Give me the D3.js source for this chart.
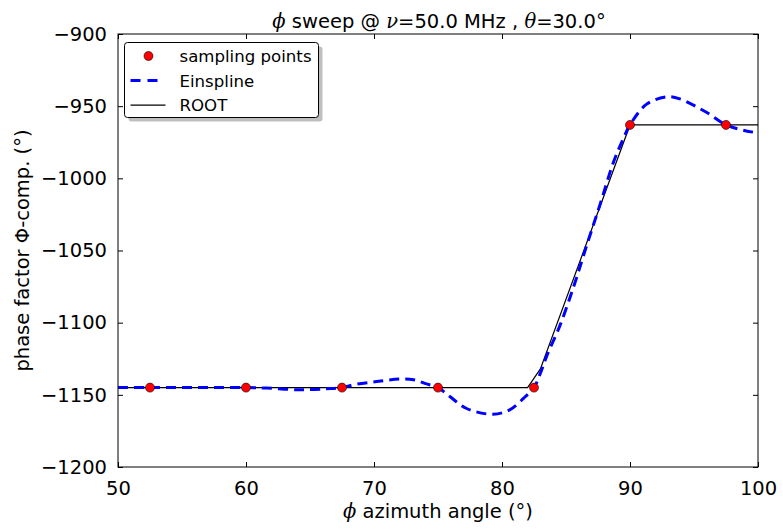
<!DOCTYPE html>
<html lang="en">
<head>
<meta charset="UTF-8">
<title>phi sweep</title>
<script src="https://d3js.org/d3.v7.min.js"></script>
<style>
  body { margin: 0; background: #fff; }
  svg { font-family: "DejaVu Sans", sans-serif; }
</style>
</head>
<body>
<svg id="chart" width="783" height="530"></svg>
<script>
// sampling points
const sampleX = [52.5, 60, 67.5, 75, 82.5, 90, 97.5];
const sampleY = [-1145, -1145, -1145, -1145, -1145, -963, -963];

// Einspline curve
const splineX = [50, 52.5, 55, 57.5, 60, 61.6, 64.2, 66.3, 67.5, 68.4, 70.2, 72.0, 73.1, 74.1, 75, 75.9, 77.2, 79.3, 80.6, 81.7, 82.5, 83.0, 83.5, 84.5, 85.6, 86.6, 87.7, 88.7, 89.5, 90, 91.3, 92.9, 93.9, 96.0, 97.5, 99, 100];
const splineY = [-1145, -1145, -1145, -1145, -1145, -1145.3, -1146.5, -1145.8, -1145, -1143, -1140.8, -1139.1, -1139.5, -1142.4, -1145, -1151, -1159.3, -1163.5, -1160.4, -1152.3, -1145, -1135, -1123, -1102.6, -1075, -1047, -1017, -989, -972, -963, -948.6, -943.5, -945, -954.4, -963, -967, -968.5];

// ROOT linear interpolation
const rootX = [50, 82, 83, 90, 100];
const rootY = [-1145, -1145, -1132, -963, -963];

const xTicks = [50, 60, 70, 80, 90, 100];
const yTicks = [-1200, -1150, -1100, -1050, -1000, -950, -900];

const margin = { left: 118, right: 25, top: 34, bottom: 63 };
const width = 783, height = 530;
const fontSize = 19.5;
const svg = d3.select("#chart");

const x = d3.scaleLinear().domain([50, 100]).range([margin.left, width - margin.right]);
const y = d3.scaleLinear().domain([-1200, -900]).range([height - margin.bottom, margin.top]);

const fmt = d => String(d).replace("-", "\u2212");

// ticks (inward on all sides)
const tickLen = 5;
function drawAxis(axis, transform) {
  const g = svg.append("g").attr("transform", transform).call(axis);
  g.select(".domain").remove();
  g.selectAll(".tick line").attr("stroke", "#000").attr("stroke-width", 1);
  g.selectAll(".tick text").attr("font-size", fontSize).attr("fill", "#000")
    .attr("font-family", "DejaVu Sans, sans-serif");
  return g;
}
drawAxis(d3.axisBottom(x).tickValues(xTicks).tickSizeInner(-tickLen).tickPadding(14).tickFormat(fmt),
  `translate(0,${y(-1200)})`);
drawAxis(d3.axisTop(x).tickValues(xTicks).tickSizeInner(-tickLen).tickFormat(""),
  `translate(0,${y(-900)})`);
drawAxis(d3.axisLeft(y).tickValues(yTicks).tickSizeInner(-tickLen).tickPadding(11).tickFormat(fmt),
  `translate(${x(50)},0)`);
drawAxis(d3.axisRight(y).tickValues(yTicks).tickSizeInner(-tickLen).tickFormat(""),
  `translate(${x(100)},0)`);

// clip
svg.append("clipPath").attr("id", "clip").append("rect")
  .attr("x", x(50)).attr("y", y(-900)).attr("width", x(100) - x(50)).attr("height", y(-1200) - y(-900));

const plot = svg.append("g").attr("clip-path", "url(#clip)");

const line = d3.line().x(d => x(d[0])).y(d => y(d[1]));

plot.append("path")
  .datum(rootX.map((v, i) => [v, rootY[i]]))
  .attr("d", line)
  .attr("fill", "none").attr("stroke", "#000").attr("stroke-width", 1.2);

plot.append("path")
  .datum(splineX.map((v, i) => [v, splineY[i]]))
  .attr("d", line.curve(d3.curveCatmullRom.alpha(0.5)))
  .attr("fill", "none").attr("stroke", "#0000ff").attr("stroke-width", 3)
  .attr("stroke-dasharray", "10,6");

svg.append("g").selectAll("circle")
  .data(sampleX.map((v, i) => [v, sampleY[i]]))
  .join("circle")
  .attr("cx", d => x(d[0])).attr("cy", d => y(d[1])).attr("r", 4.5)
  .attr("fill", "#ff0000").attr("stroke", "#000").attr("stroke-width", 0.6);

// frame
svg.append("rect")
  .attr("x", x(50)).attr("y", y(-900)).attr("width", x(100) - x(50)).attr("height", y(-1200) - y(-900))
  .attr("fill", "none").attr("stroke", "#000").attr("stroke-width", 1);

// title
const title = svg.append("text").attr("x", 439).attr("y", 28).attr("text-anchor", "middle")
  .attr("font-size", fontSize).attr("fill", "#000");
title.append("tspan").attr("font-style", "italic").attr("font-family", "DejaVu Serif, serif").text("\u03d5");
title.append("tspan").text(" sweep @ ");
title.append("tspan").attr("font-style", "italic").attr("font-family", "DejaVu Serif, serif").text("\u03bd");
title.append("tspan").text("=50.0 MHz , ");
title.append("tspan").attr("font-style", "italic").attr("font-family", "DejaVu Serif, serif").text("\u03b8");
title.append("tspan").text("=30.0\u00b0");

// x label
const xl = svg.append("text").attr("x", x(75)).attr("y", 518).attr("text-anchor", "middle")
  .attr("font-size", fontSize).attr("fill", "#000");
xl.append("tspan").attr("font-style", "italic").attr("font-family", "DejaVu Serif, serif").text("\u03d5");
xl.append("tspan").text(" azimuth angle (\u00b0)");

// y label
svg.append("text").attr("transform", `translate(29,${(y(-900) + y(-1200)) / 2}) rotate(-90)`)
  .attr("text-anchor", "middle").attr("font-size", fontSize).attr("fill", "#000")
  .text("phase factor \u03a6-comp. (\u00b0)");

// legend
const lg = svg.append("g").attr("transform", "translate(124.5,42.5)");
const lw = 194, lh = 75;
lg.append("rect").attr("x", 4).attr("y", 4).attr("width", lw).attr("height", lh).attr("rx", 3)
  .attr("fill", "#bfbfbf");
lg.append("rect").attr("width", lw).attr("height", lh).attr("rx", 3)
  .attr("fill", "#fff").attr("stroke", "#000").attr("stroke-width", 1);

const legendItems = ["sampling points", "Einspline", "ROOT"];
legendItems.forEach((name, i) => {
  const cy = 13.5 + i * 24.6;
  if (i === 0) {
    lg.append("circle").attr("cx", 24).attr("cy", cy).attr("r", 4.5)
      .attr("fill", "#ff0000").attr("stroke", "#000").attr("stroke-width", 0.6);
  } else if (i === 1) {
    lg.append("line").attr("x1", 6).attr("x2", 40).attr("y1", cy).attr("y2", cy)
      .attr("stroke", "#0000ff").attr("stroke-width", 3).attr("stroke-dasharray", "10,7");
  } else {
    lg.append("line").attr("x1", 6).attr("x2", 41).attr("y1", cy).attr("y2", cy)
      .attr("stroke", "#000").attr("stroke-width", 1.2);
  }
  lg.append("text").attr("x", 55).attr("y", cy + 6).attr("font-size", 16.6).attr("fill", "#000").text(name);
});
</script>
</body>
</html>
